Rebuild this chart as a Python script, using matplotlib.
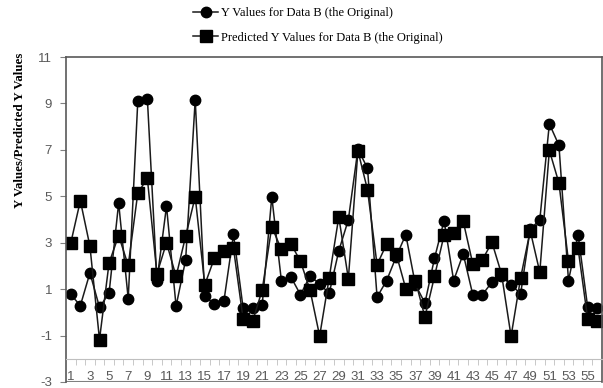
import numpy as np
import matplotlib.pyplot as plt
from matplotlib.ticker import FixedLocator

plt.rcParams['axes.unicode_minus'] = False

# observed values and model predictions for Data B, 56 samples
y_orig = [0.77, 0.29, 1.70, 0.22, 0.83, 4.71, 0.59, 9.10, 9.21, 1.37,
          4.57, 0.27, 2.26, 9.16, 0.69, 0.37, 0.49, 3.36, 0.20, 0.20,
          0.33, 4.98, 1.37, 1.52, 0.76, 1.57, 1.22, 0.82, 2.65, 3.99,
          7.03, 6.21, 0.66, 1.37, 2.40, 3.35, 1.20, 0.40, 2.33, 3.95,
          1.37, 2.52, 0.76, 0.76, 1.30, 1.55, 1.19, 0.80, 3.59, 3.98,
          8.12, 7.20, 1.37, 3.35, 0.23, 0.20]
y_pred = [2.99, 4.81, 2.85, -1.17, 2.13, 3.31, 2.02, 5.14, 5.77, 1.66,
          3.00, 1.55, 3.28, 4.98, 1.19, 2.33, 2.66, 2.76, -0.27, -0.39,
          0.97, 3.69, 2.71, 2.95, 2.20, 0.96, -1.02, 1.49, 4.11, 1.45,
          6.96, 5.28, 2.05, 2.95, 2.52, 1.02, 1.37, -0.20, 1.55, 3.33,
          3.40, 3.92, 2.09, 2.26, 3.02, 1.66, -1.03, 1.49, 3.52, 1.73,
          6.98, 5.57, 2.20, 2.76, -0.27, -0.37]
x = np.arange(1, len(y_orig) + 1)
x_labels = [str(i) for i in range(1, 56, 2)]
y_ticks = list(range(-3, 12, 2))

serif = ['Liberation Serif', 'DejaVu Serif']
tick_color = '#595959'

fig = plt.figure(figsize=(6.03, 3.88), dpi=100)
ax = fig.add_axes([66 / 603, 6 / 388, 536 / 603, 325 / 388])

ax.plot(x, y_orig, color='#1a1a1a', lw=1.1, marker='o', ms=7.5,
        mfc='black', mec='black', label='Y Values for Data B (the Original)')
ax.plot(x, y_pred, color='#1a1a1a', lw=1.1, marker='s', ms=8,
        mfc='black', mec='black', label='Predicted Y Values for Data B (the Original)')

ax.set_xlim(0.5, 56.5)
ax.set_ylim(-3, 11)
ax.set_yticks(y_ticks)
ax.tick_params(axis='y', length=4, color='#808080', labelsize=9.5,
               labelcolor=tick_color, pad=6)

# category axis crosses at y = -2, labels sit underneath it
ax.spines['bottom'].set_position(('data', -2))
ax.spines['bottom'].set_color('#bfbfbf')
ax.set_xticks(range(1, 56, 2))
ax.set_xticklabels(x_labels)
ax.xaxis.set_minor_locator(FixedLocator(np.arange(1.5, 56.5, 1)))
ax.tick_params(axis='x', which='major', length=0, labelsize=9.5,
               labelcolor=tick_color, pad=9)
ax.tick_params(axis='x', which='minor', length=4, color='#bfbfbf')
ax.axhline(-3, color='#808080', lw=1.5, zorder=0)

for side in ['top', 'left', 'right']:
    ax.spines[side].set_color('#595959')
    ax.spines[side].set_linewidth(1.2)
for lab in ax.get_xticklabels() + ax.get_yticklabels():
    lab.set_family(['Liberation Sans', 'DejaVu Sans'])

fig.text(20 / 603, 1 - 130 / 388, 'Y Values/Predicted Y Values',
         rotation=90, ha='center', va='center', fontsize=9.3,
         fontweight='bold', family=serif)

leg = fig.legend(loc='upper left', bbox_to_anchor=(182 / 603, 1.0 + 4 / 388),
                 frameon=False, prop={'family': serif, 'size': 9},
                 handlelength=2.0, handletextpad=0.2, labelspacing=1.0)

fig.savefig('out.png', dpi=100)
